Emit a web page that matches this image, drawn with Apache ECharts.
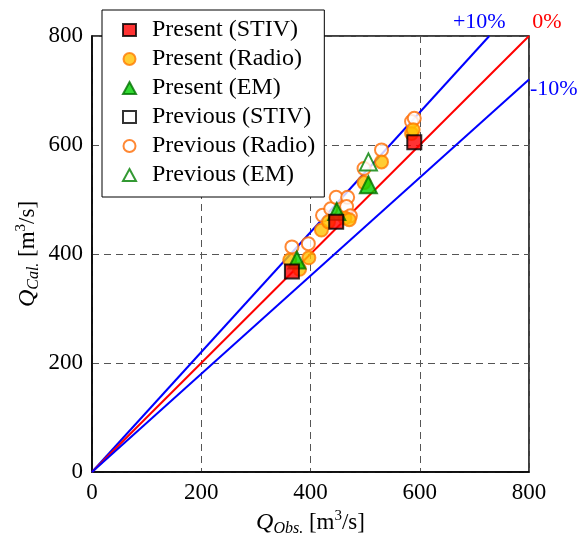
<!DOCTYPE html>
<html>
<head>
<meta charset="utf-8">
<script src="https://cdn.jsdelivr.net/npm/echarts@6/dist/echarts.min.js"></script>
<style>html,body{margin:0;padding:0;background:#fff}#c{width:579px;height:540px}</style>
</head>
<body>
<div id="c"></div>
<script>
// ---- data ----
const axisTicks = [0, 200, 400, 600, 800];
const presentSTIV = [[366,368],[447,459],[590,605]];
const presentRadio = [[362,389],[380,372],[397,393],[420,444],[433,459],[463,466],[471,463],[498,531],[530,569],[585,621],[588,628]];
const presentEM = [[375,389],[448,478],[506,527]];
const previousSTIV = [];
const previousRadio = [[366,413],[396,419],[422,471],[437,483],[447,504],[468,504],[466,487],[473,470],[498,557],[530,591],[585,643],[590,649]];
const previousEM = [[506,569]];
const linePlus10 = [[0,0],[727.3,800]];
const lineZero = [[0,0],[800,800]];
const lineMinus10 = [[0,0],[800,720]];
const lineLabels = ['+10%', '0%', '-10%'];

const FONT = 'Liberation Serif';
const chart = echarts.init(document.getElementById('c'));

const nameRich = {
  i: {fontFamily: FONT, fontStyle: 'italic', fontSize: 24, color: '#000', lineHeight: 28},
  s: {fontFamily: FONT, fontStyle: 'italic', fontSize: 16, color: '#000', lineHeight: 16, verticalAlign: 'bottom'},
  n: {fontFamily: FONT, fontSize: 23, color: '#000', lineHeight: 28},
  p: {fontFamily: FONT, fontSize: 15, color: '#000', lineHeight: 15, verticalAlign: 'top'}
};

function axisCommon(name, gap, rotate) {
  return {
    type: 'value', min: axisTicks[0], max: axisTicks[axisTicks.length - 1], interval: axisTicks[1] - axisTicks[0],
    name: name, nameLocation: 'middle', nameGap: gap, nameRotate: rotate, nameMoveOverlap: false,
    nameTextStyle: {rich: nameRich},
    axisLine: {show: true, lineStyle: {color: '#000', width: 1.5}},
    axisTick: {show: false},
    axisLabel: {fontFamily: FONT, fontSize: 23, color: '#000', margin: 9},
    splitLine: {show: true, lineStyle: {color: '#555', width: 1, type: [7, 5]}}
  };
}

function lineSeries(data, color, label, lblPos, lblOffset) {
  return {
    type: 'line', data: data, showSymbol: false, symbol: 'none', silent: true,
    lineStyle: {color: color, width: 2}, z: 1, legendHoverLink: false,
    markPoint: {
      symbol: 'circle', symbolSize: 0, silent: true, animation: false,
      data: [{coord: data[data.length - 1],
        label: {show: true, formatter: label, position: lblPos, offset: lblOffset, distance: 3,
          color: color, fontFamily: FONT, fontSize: 22}}]
    }
  };
}

chart.setOption({
  animation: false,
  backgroundColor: '#fff',
  grid: {left: 92, right: 50, top: 36, bottom: 68, show: true, borderColor: '#000', borderWidth: 1.5,
    backgroundColor: 'transparent', containLabel: false, outerBoundsMode: 'none'},
  xAxis: axisCommon('{i|Q}{s|Obs.}{n| [m}{p|3}{n|/s]}', 37, 0),
  yAxis: axisCommon('{i|Q}{s|Cal.}{n| [m}{p|3}{n|/s]}', 50, 90),
  legend: {
    orient: 'vertical', left: 102, top: 10,
    padding: [8, 9, 10, 20],
    itemWidth: 13, itemHeight: 12, itemGap: 5,
    backgroundColor: '#fff', borderColor: '#000', borderWidth: 1,
    textStyle: {fontFamily: FONT, fontSize: 24, color: '#000', padding: [0, 0, 0, 11]},
    data: ['Present (STIV)', 'Present (Radio)', 'Present (EM)', 'Previous (STIV)', 'Previous (Radio)', 'Previous (EM)']
  },
  series: [
    lineSeries(linePlus10, '#0000ff', lineLabels[0], 'top', [-10, 0]),
    lineSeries(lineZero, '#ff0000', lineLabels[1], 'top', [18, 0]),
    lineSeries(lineMinus10, '#0000ff', lineLabels[2], 'right', [-2, 10]),
    {name: 'Previous (Radio)', type: 'scatter', data: previousRadio, symbol: 'circle', symbolSize: 13, z: 3,
      itemStyle: {color: '#fff', borderColor: '#ff6a00', borderWidth: 2}},
    {name: 'Present (Radio)', type: 'scatter', data: presentRadio, symbol: 'circle', symbolSize: 13, z: 3,
      itemStyle: {color: '#ffc000', borderColor: '#ff7a00', borderWidth: 2}},
    {name: 'Previous (EM)', type: 'scatter', data: previousEM, symbol: 'triangle', symbolSize: 17, z: 4,
      itemStyle: {color: '#fff', borderColor: '#008000', borderWidth: 2}},
    {name: 'Present (EM)', type: 'scatter', data: presentEM, symbol: 'triangle', symbolSize: 17, z: 4,
      itemStyle: {color: '#00d000', borderColor: '#007000', borderWidth: 2}},
    {name: 'Previous (STIV)', type: 'scatter', data: previousSTIV, symbol: 'rect', symbolSize: 14, z: 5,
      itemStyle: {color: '#fff', borderColor: '#000', borderWidth: 2}},
    {name: 'Present (STIV)', type: 'scatter', data: presentSTIV, symbol: 'rect', symbolSize: 14, z: 5,
      itemStyle: {color: '#ff0000', borderColor: '#000', borderWidth: 2}}
  ]
});
</script>
</body>
</html>
